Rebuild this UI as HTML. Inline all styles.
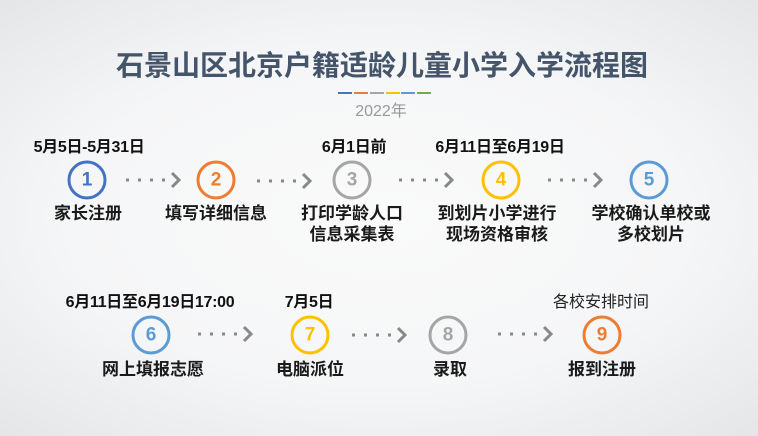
<!DOCTYPE html>
<html><head><meta charset="utf-8"><style>
body{margin:0;width:758px;height:436px;overflow:hidden;font-family:"Liberation Sans","Noto Sans CJK SC",sans-serif;}
#bg{position:absolute;left:0;top:0;width:758px;height:436px;background:radial-gradient(ellipse 75% 70% at 50% 50%,#fafafa 0%,#f5f6f7 55%,#e4e5e7 100%);}
.t{position:absolute;white-space:nowrap;transform:translateX(-50%);text-align:center;}
.d{font-size:16px;font-weight:bold;color:#111;letter-spacing:-0.3px;}
.l{font-size:17px;font-weight:bold;color:#1a1a1a;line-height:21px;}
.c{position:absolute;width:33px;height:33px;border-radius:50%;border:3.5px solid;background:transparent;transform:translate(-50%,-50%);font-size:19px;font-weight:bold;display:flex;align-items:center;justify-content:center;font-family:"Liberation Sans Narrow","Liberation Sans",sans-serif;}
</style></head><body>
<div id="bg"></div>
<div class="t" style="left:382px;top:44px;font-size:28px;font-weight:bold;color:#44546a;">石景山区北京户籍适龄儿童小学入学流程图</div>
<div style="position:absolute;top:92px;left:338px;width:14px;height:2px;background:#4472c4"></div>
<div style="position:absolute;top:92px;left:354px;width:14px;height:2px;background:#ed7d31"></div>
<div style="position:absolute;top:92px;left:370px;width:14px;height:2px;background:#a5a5a5"></div>
<div style="position:absolute;top:92px;left:386px;width:14px;height:2px;background:#ffc000"></div>
<div style="position:absolute;top:92px;left:401px;width:14px;height:2px;background:#5b9bd5"></div>
<div style="position:absolute;top:92px;left:417px;width:14px;height:2px;background:#70ad47"></div>
<div class="t" style="left:381px;top:97px;font-size:16px;color:#999;">2022年</div>

<div class="t d" style="left:89px;top:133px;">5月5日-5月31日</div>
<div class="t d" style="left:354px;top:133px;">6月1日前</div>
<div class="t d" style="left:500px;top:133px;">6月11日至6月19日</div>

<div class="c" style="left:87px;top:180px;border-color:#4472c4;color:#4472c4">1</div>
<div class="c" style="left:216px;top:180px;border-color:#ed7d31;color:#ed7d31">2</div>
<div class="c" style="left:352px;top:180px;border-color:#a5a5a5;color:#a5a5a5">3</div>
<div class="c" style="left:501px;top:180px;border-color:#ffc000;color:#ffc000">4</div>
<div class="c" style="left:649px;top:180px;border-color:#5b9bd5;color:#5b9bd5">5</div>

<div class="t l" style="left:88px;top:203px;">家长注册</div>
<div class="t l" style="left:216px;top:203px;">填写详细信息</div>
<div class="t l" style="left:352px;top:203px;">打印学龄人口<br>信息采集表</div>
<div class="t l" style="left:497px;top:203px;">到划片小学进行<br>现场资格审核</div>
<div class="t l" style="left:651px;top:203px;">学校确认单校或<br>多校划片</div>

<div class="t d" style="left:150px;top:288px;">6月11日至6月19日17:00</div>
<div class="t d" style="left:309px;top:288px;">7月5日</div>
<div class="t" style="left:601px;top:288px;font-size:16px;color:#222;">各校安排时间</div>

<div class="c" style="left:151px;top:335px;border-color:#5b9bd5;color:#5b9bd5">6</div>
<div class="c" style="left:310px;top:335px;border-color:#ffc000;color:#ffc000">7</div>
<div class="c" style="left:448px;top:335px;border-color:#a5a5a5;color:#a5a5a5">8</div>
<div class="c" style="left:602px;top:335px;border-color:#ed7d31;color:#ed7d31">9</div>

<div class="t l" style="left:153px;top:359px;">网上填报志愿</div>
<div class="t l" style="left:310px;top:359px;">电脑派位</div>
<div class="t l" style="left:450px;top:359px;">录取</div>
<div class="t l" style="left:602px;top:359px;">报到注册</div>

<svg width="758" height="436" style="position:absolute;left:0;top:0">
<defs><g id="ar"><g fill="#888"><rect x="0" y="-1.5" width="3" height="3"/><rect x="12" y="-1.5" width="3" height="3"/><rect x="24" y="-1.5" width="3" height="3"/><rect x="36" y="-1.5" width="3" height="3"/></g><polyline points="46,-7 53,0 46,7" fill="none" stroke="#888" stroke-width="3"/></g></defs>
<use href="#ar" x="126" y="180"/>
<use href="#ar" x="257" y="181"/>
<use href="#ar" x="399" y="180"/>
<use href="#ar" x="548" y="180"/>
<use href="#ar" x="198" y="334"/>
<use href="#ar" x="352" y="335"/>
<use href="#ar" x="498" y="334"/>
</svg>
</body></html>
